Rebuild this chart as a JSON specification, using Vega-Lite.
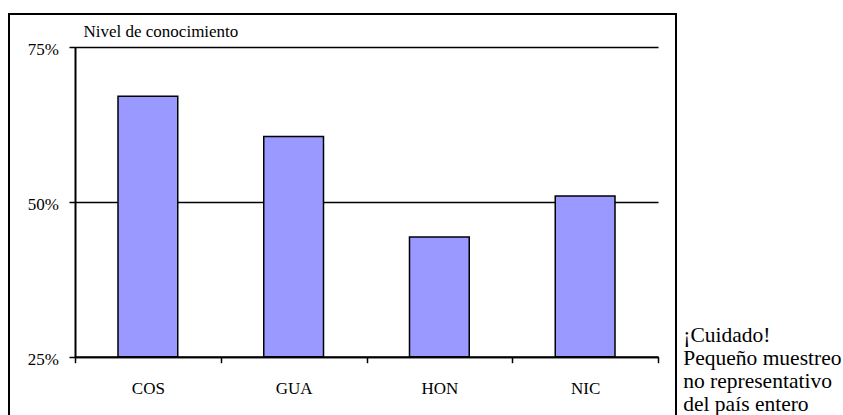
{
  "$schema": "https://vega.github.io/schema/vega-lite/v6.json",
  "autosize": {"type": "none"},
  "padding": {"left": 9, "top": 14, "right": 167, "bottom": 0},
  "width": 667,
  "height": 410,
  "background": "white",
  "config": {
    "view": {"stroke": "black", "strokeWidth": 2},
    "font": "'Liberation Serif', 'Times New Roman', serif",
    "axis": {
      "labelFont": "'Liberation Serif', 'Times New Roman', serif",
      "titleFont": "'Liberation Serif', 'Times New Roman', serif",
      "labelColor": "black",
      "titleColor": "black",
      "domainColor": "black",
      "tickColor": "black",
      "gridColor": "black"
    }
  },
  "title": {
    "text": ["¡Cuidado!", "Pequeño muestreo", "no representativo", "del país entero"],
    "orient": "right",
    "anchor": "start",
    "frame": "group",
    "angle": 0,
    "align": "left",
    "baseline": "alphabetic",
    "lineHeight": 23,
    "fontSize": 21.5,
    "fontWeight": "normal",
    "font": "'Liberation Serif', 'Times New Roman', serif",
    "color": "black",
    "offset": 7,
    "dx": -158,
    "dy": 327.7
  },
  "data": {
    "values": [
      {"pais": "COS", "nivel": 0.67},
      {"pais": "GUA", "nivel": 0.605},
      {"pais": "HON", "nivel": 0.443},
      {"pais": "NIC", "nivel": 0.509}
    ]
  },
  "mark": {"type": "bar", "width": {"band": 0.41}, "fill": "#9999ff", "stroke": "black", "strokeWidth": 1.5},
  "encoding": {
    "x": {
      "field": "pais",
      "type": "nominal",
      "sort": null,
      "scale": {"range": [66, 649], "paddingInner": 0, "paddingOuter": 0},
      "axis": {
        "title": null,
        "orient": "bottom",
        "offset": -67.3,
        "labelAngle": 0,
        "labelFontSize": 17,
        "labelBaseline": "alphabetic",
        "labelPadding": 30.5,
        "tickBand": "extent",
        "tickSize": 6,
        "tickWidth": 1.5,
        "domainWidth": 2,
        "grid": false
      }
    },
    "y": {
      "field": "nivel",
      "type": "quantitative",
      "scale": {"domain": [0.25, 0.75], "range": [342.7, 32.7], "nice": false, "zero": false},
      "axis": {
        "title": "Nivel de conocimiento",
        "titleAngle": 0,
        "titleAlign": "left",
        "titleBaseline": "alphabetic",
        "titleX": 8,
        "titleY": 22,
        "titleFontSize": 17,
        "titleFontWeight": "normal",
        "orient": "left",
        "offset": -66,
        "values": [0.25, 0.5, 0.75],
        "format": ".0%",
        "labelFontSize": 17,
        "labelBaseline": "alphabetic",
        "labelOffset": 8,
        "labelPadding": 10.7,
        "labelFlush": false,
        "labelOverlap": false,
        "tickSize": 6,
        "tickWidth": 1.5,
        "domainWidth": 2,
        "grid": true,
        "gridWidth": 1.3
      }
    },
    "y2": {"datum": 0.25}
  }
}
